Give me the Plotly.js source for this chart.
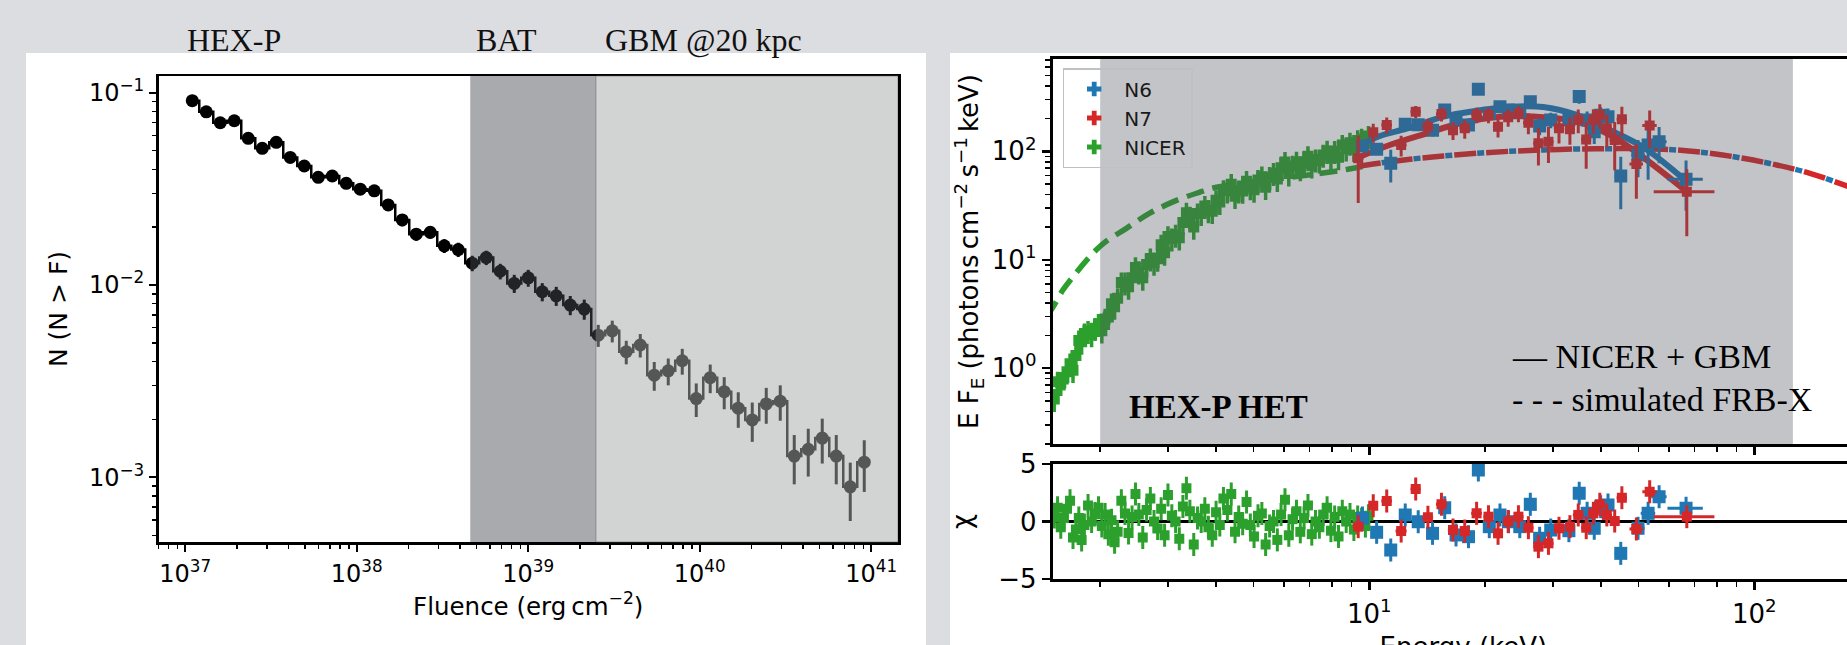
<!DOCTYPE html>
<html><head><meta charset="utf-8">
<script src="https://cdn.plot.ly/plotly-3.0.1.min.js"></script>
<style>
html,body{margin:0;padding:0;width:1847px;height:645px;overflow:hidden;background:#dcdde1;}
.panel{position:absolute;background:#ffffff;}
#p1{left:26px;top:53px;width:900px;height:620px;}
#p2{left:950px;top:53px;width:960px;height:620px;}
#chart{position:absolute;left:0;top:0;width:1880px;height:670px;}
</style></head><body>
<div class="panel" id="p1"></div><div class="panel" id="p2"></div>
<div id="chart"></div>
<script>
// ---------- Left panel: cumulative distribution N(>F) ----------
const FLUENCE = [1.099e37,1.326e37,1.600e37,1.931e37,2.330e37,2.812e37,3.393e37,4.095e37,4.942e37,5.964e37,
  7.197e37,8.685e37,1.048e38,1.265e38,1.526e38,1.842e38,2.223e38,2.683e38,3.237e38,3.907e38,
  4.715e38,5.690e38,6.866e38,8.286e38,1.000e39,1.207e39,1.456e39,1.758e39,2.121e39,2.560e39,
  3.089e39,3.728e39,4.499e39,5.429e39,6.551e39,7.906e39,9.541e39,1.151e40,1.389e40,1.677e40,
  2.024e40,2.442e40,2.947e40,3.556e40,4.292e40,5.179e40,6.251e40,7.543e40,9.103e40];
const N_CUM = [0.0909,0.0796,0.0698,0.0715,0.0579,0.0514,0.0552,0.0461,0.0416,0.0363,
  0.0369,0.0338,0.0315,0.0309,0.0261,0.0218,0.0184,0.0188,0.0160,0.0153,
  0.0130,0.0139,0.0118,0.0102,0.0109,0.00923,0.00879,0.00787,0.00750,0.00549,
  0.00578,0.00450,0.00488,0.00340,0.00358,0.00404,0.00257,0.00330,0.00279,0.00229,
  0.00199,0.00241,0.00249,0.00129,0.00140,0.00160,0.00129,0.000893,0.00120];
const N_CUM_ERR = [0.0032,0.0030,0.0028,0.0028,0.0025,0.0024,0.0025,0.0023,0.0022,0.0020,
  0.0020,0.0019,0.0019,0.0019,0.0017,0.0016,0.0014,0.0014,0.0013,0.0013,
  0.0012,0.0012,0.0011,0.0011,0.0011,0.0010,0.0010,0.0009,0.0009,0.00072,
  0.00075,0.00063,0.00068,0.00058,0.00057,0.00062,0.00051,0.00056,0.00053,0.00048,
  0.00046,0.00051,0.00052,0.00037,0.00039,0.00042,0.00037,0.00030,0.00036];
const BAT_BAND = [4.59e38, 2.48e39];   // fluence limits of the BAT band
const TOP_LABELS = ["HEX-P", "BAT", "GBM @20 kpc"];

// ---------- Right panel: spectra ----------
const NICER_E = [1.52,1.55,1.58,1.61,1.64,1.67,1.70,1.73,1.76,1.79,1.82,1.86,1.90,1.94,1.98,2.02,2.06,2.10,2.14,2.18,2.22,
  2.27,2.32,2.37,2.42,2.47,2.52,2.58,2.64,2.70,2.76,2.82,2.88,2.94,3.00,3.07,3.14,3.21,3.28,3.35,3.42,
  3.50,3.58,3.66,3.74,3.82,3.91,4.00,4.09,4.18,4.28,4.38,4.48,4.58,4.69,4.80,4.91,5.02,5.14,5.26,5.38,
  5.51,5.64,5.77,5.90,6.04,6.18,6.32,6.47,6.62,6.77,6.93,7.09,7.25,7.42,7.59,7.77,7.95,8.13,8.32,8.51,
  8.71,8.91,9.12,9.33,9.55,9.77,9.95];
const NICER_F = [0.52,0.75,0.73,0.82,0.93,1.10,0.96,1.31,1.80,1.75,
  2.09,2.20,2.05,2.34,2.55,2.22,2.85,2.97,3.94,3.69,
  4.41,6.16,6.17,5.64,6.84,8.51,7.80,6.82,9.05,10.27,
  9.40,10.22,13.74,11.60,16.42,15.68,17.0,16.00,22.12,27.11,
  24.86,20.09,26.70,27.0,31.32,28.65,28.10,35.38,34.06,43.66,
  43.60,49.86,38.60,43.51,43.21,53.04,46.70,44.15,54.34,58.47,
  46.74,57.84,63.0,55.64,70.62,79.63,62.44,73.30,79.99,69.84,
  80.11,90.08,73.88,84.0,82.13,92.75,100.8,87.23,100.5,88.3,
  114.3,106,119.9,104.9,126.1,130.1,118.6,138.5];
const NICER_CHI = [0.4,1.2,-0.5,0.3,1.1,1.8,-1.4,-0.7,0.3,-1.6,-0.3,1.4,0.0,0.7,1.2,-0.4,0.6,-1.1,0.1,-1.8,
  -0.9,1.8,0.7,-1.0,0.4,2.4,0.6,-1.4,1.0,2.0,0.0,-0.6,1.1,-1.2,2.3,0.5,0.0,-1.5,1.3,2.9,
  0.9,-2.0,0.3,0.0,1.1,-0.5,-1.2,0.8,-0.3,2.0,1.0,2.4,-0.9,0.4,-0.2,1.7,-0.3,-1.3,0.5,0.7,
  -2.0,-0.4,0.0,-1.6,0.6,1.9,-1.2,0.2,0.9,-0.9,0.3,1.4,-1.1,0.0,-0.5,0.6,1.2,-0.8,0.4,-1.3,
  0.9,0.0,0.6,-0.7,0.4,0.2,-0.4,0.5];

const N6_E = [9.6,10.45,11.37,12.4,13.4,14.6,15.7,16.8,18.1,19.2,20.5,21.85,23.0,24.6,26.2,27.7,29.6,33.0,35.1,36.8,38.4,39.9,41.7,45.0,49.9,53.0,56.6,66.5];
const N6_EERR = [0.3,0.3,0.35,0.4,0.4,0.45,0.5,0.5,0.55,0.6,0.6,0.65,0.7,0.75,0.8,0.85,0.9,1.0,1.1,1.1,1.2,1.2,1.3,1.6,2.0,2.3,2.6,7.0];
const N6_F = [112,104.5,77.6,178,176,157,241,195,175,374,225,258,241,230,287,171,195,195,320,195,152,215,209,59.3,92.6,114.6,122.9,55.3];
const N6_FERR = [12,12,26,20,20,20,28,25,25,40,28,30,30,30,35,30,32,35,45,38,35,40,40,30,35,60,45,27];
const N6_CHI = [0.3,-0.94,-2.48,0.57,-0.02,-1.03,1.2,-1.17,-1.32,4.48,-0.45,0.57,-0.02,-0.45,1.49,-1.46,-0.74,-0.8,2.45,0.71,-0.59,1.29,1.43,-2.77,-0.59,0.71,2.16,1.15];

const N7_E = [9.36,10.24,11.1,12.1,13.2,14.2,15.4,16.5,17.7,19.0,20.4,21.6,22.95,24.4,25.9,27.5,29.2,31.1,33.2,34.9,36.6,38.2,39.7,41.4,43.4,45.3,49.4,53.5,66.8];
const N7_EERR = [0.3,0.3,0.35,0.4,0.4,0.45,0.5,0.5,0.55,0.6,0.6,0.65,0.7,0.75,0.8,0.85,0.9,0.95,1.0,1.1,1.1,1.2,1.2,1.3,1.3,1.4,2.0,2.3,12];
const N7_F = [86.4,150,175,114.6,232,169,221,157,163,217,217,169,206.5,224,184,119,123,163,160,195,129,195,217,163,127,198,76.6,173,42.5];
const N7_FERR = [53,30,30,25,30,30,32,30,32,35,35,35,38,38,40,45,45,45,45,48,60,50,55,55,60,60,40,65,26];
const N7_CHI = [-0.45,1.37,1.78,-0.83,2.83,0.37,1.5,-0.74,-0.83,0.71,0.42,-1.03,0,0.42,-0.54,-2.19,-1.9,-0.59,-0.45,0.57,-0.54,0.71,1.49,0.57,0.04,2.07,-0.65,2.59,0.42];

// NICER + GBM fitted models
const N6_MODEL_E = [9.27,10.66,12.5,15.6,19.0,23.2,28.3,34.6,42.2,51.5,66.8];
const N6_MODEL_F = [109,138.7,162,209,237,258,257,217,157,109,52.5];
const N7_MODEL_E = [9.46,11.3,14.1,17.2,21.9,28.3,34.6,42.2,50.5,66.8];
const N7_MODEL_F = [89.4,114.6,146.8,181.6,209,206.5,188,141.6,92.6,42.5];

// simulated FRB-X spectrum
const SIM_LO_E = [1.45,1.51,1.60,1.70,1.88,2.04,2.34,2.69,3.10,3.56,4.01,5.98,7.30,8.56,9.6];
const SIM_LO_F = [3.0,3.69,5.26,6.98,10.7,14.2,19.5,26.9,34.4,41.1,46.7,56.5,61.9,67.3,72.5];
const SIM_HI_E = [9.4,10.24,12.76,15.57,19.0,23.2,28.3,34.6,42.2,51.5,62.9,76.7,93.6,114.3,139.5,173.8,185];
const SIM_HI_F = [73,76.5,84.6,90.7,96.0,100.2,103.1,105.2,105.9,105.9,103.1,96.0,86.3,74.9,62.8,48.0,44];
const HET_BAND = [2, 126];   // keV limits of the HEX-P HET band

// ---------- geometry ----------
const W = 1880, H = 670;
const px = x => x / W, py = y => 1 - y / H;
const FONT = 'DejaVu Sans';
const SERIF = 'Liberation Serif';
const sup = n => '10<sup>' + (n < 0 ? '\u2212' + (-n) : n) + '</sup>';
function minorLog(a, b) { const o = []; for (let e = a; e <= b; e++) for (let m = 2; m <= 9; m++) o.push(m * Math.pow(10, e)); return o; }

const C6 = '#1f77b4', C7 = '#d62728', CN = '#2ca02c';

const LX = [36.844, 41.156], LY = [-3.336, -0.913];
const RX = [0.1777, 2.311], RY = [-0.699, 2.852];

const traces = [
  {x: FLUENCE, y: N_CUM, xaxis: 'x', yaxis: 'y', mode: 'lines+markers', showlegend: false,
   line: {shape: 'hvh', color: '#000', width: 2.5}, marker: {size: 13, color: '#000'},
   error_y: {type: 'data', array: N_CUM_ERR, thickness: 3, width: 0, color: '#000'}},

  {x: SIM_LO_E, y: SIM_LO_F, xaxis: 'x2', yaxis: 'y2', mode: 'lines', showlegend: false,
   line: {color: CN, width: 5.5, dash: '18px,9px', shape: 'spline'}},
  {x: SIM_HI_E, y: SIM_HI_F, xaxis: 'x2', yaxis: 'y2', mode: 'lines', showlegend: false,
   line: {color: C6, width: 5.5, dash: '0px,23px,7px,2px', shape: 'spline'}},
  {x: SIM_HI_E, y: SIM_HI_F, xaxis: 'x2', yaxis: 'y2', mode: 'lines', showlegend: false,
   line: {color: C7, width: 5.5, dash: '22px,10px', shape: 'spline'}},

  {x: NICER_E, y: NICER_F, xaxis: 'x2', yaxis: 'y2', mode: 'markers', showlegend: false,
   marker: {symbol: 'square', size: 11, color: CN},
   error_y: {type: 'percent', value: 24, thickness: 3.5, width: 0, color: CN},
   error_x: {type: 'percent', value: 2, thickness: 3, width: 0, color: CN}},

  {x: N6_MODEL_E, y: N6_MODEL_F, xaxis: 'x2', yaxis: 'y2', mode: 'lines', showlegend: false,
   line: {color: C6, width: 6, shape: 'spline'}},
  {x: N7_MODEL_E, y: N7_MODEL_F, xaxis: 'x2', yaxis: 'y2', mode: 'lines', showlegend: false,
   line: {color: C7, width: 6, shape: 'spline'}},

  {x: N6_E, y: N6_F, xaxis: 'x2', yaxis: 'y2', mode: 'markers', showlegend: false,
   marker: {symbol: 'square', size: 13, color: C6},
   error_y: {type: 'data', array: N6_FERR, thickness: 3, width: 0, color: C6},
   error_x: {type: 'data', array: N6_EERR, thickness: 3, width: 0, color: C6}},
  {x: N7_E, y: N7_F, xaxis: 'x2', yaxis: 'y2', mode: 'markers', showlegend: false,
   marker: {symbol: 'square', size: 10, color: C7},
   error_y: {type: 'data', array: N7_FERR, thickness: 3, width: 0, color: C7},
   error_x: {type: 'data', array: N7_EERR, thickness: 3, width: 0, color: C7}},

  {x: NICER_E, y: NICER_CHI, xaxis: 'x3', yaxis: 'y3', mode: 'markers', showlegend: false,
   marker: {symbol: 'square', size: 10, color: CN},
   error_y: {type: 'constant', value: 1, thickness: 3, width: 0, color: CN},
   error_x: {type: 'percent', value: 2, thickness: 3, width: 0, color: CN}},
  {x: N6_E, y: N6_CHI, xaxis: 'x3', yaxis: 'y3', mode: 'markers', showlegend: false,
   marker: {symbol: 'square', size: 13, color: C6},
   error_y: {type: 'constant', value: 1, thickness: 3, width: 0, color: C6},
   error_x: {type: 'data', array: N6_EERR, thickness: 3, width: 0, color: C6}},
  {x: N7_E, y: N7_CHI, xaxis: 'x3', yaxis: 'y3', mode: 'markers', showlegend: false,
   marker: {symbol: 'square', size: 10, color: C7},
   error_y: {type: 'constant', value: 1, thickness: 3, width: 0, color: C7},
   error_x: {type: 'data', array: N7_EERR, thickness: 3, width: 0, color: C7}},

  // legend entries
  {x: [null], y: [null], xaxis: 'x2', yaxis: 'y2', mode: 'markers', name: 'N6',
   marker: {symbol: 'cross', size: 18, color: C6}},
  {x: [null], y: [null], xaxis: 'x2', yaxis: 'y2', mode: 'markers', name: 'N7',
   marker: {symbol: 'cross', size: 18, color: C7}},
  {x: [null], y: [null], xaxis: 'x2', yaxis: 'y2', mode: 'markers', name: 'NICER',
   marker: {symbol: 'cross', size: 18, color: CN}}
];

const axBase = {showgrid: false, zeroline: false, showline: true, linecolor: '#000', ticks: 'outside',
  tickcolor: '#000', automargin: false};

const layout = {
  width: W, height: H, margin: {l: 0, r: 0, t: 0, b: 0},
  paper_bgcolor: 'rgba(0,0,0,0)', plot_bgcolor: 'rgba(0,0,0,0)',
  showlegend: true, hovermode: false,
  font: {family: FONT, color: '#000'},
  xaxis: Object.assign({}, axBase, {
    domain: [px(158.5), px(898)], anchor: 'y', type: 'log', range: LX,
    linewidth: 2.5, mirror: true, ticklen: 7, tickwidth: 2,
    tickmode: 'array', tickvals: [1e37, 1e38, 1e39, 1e40, 1e41], ticktext: [sup(37), sup(38), sup(39), sup(40), sup(41)],
    tickfont: {family: FONT, size: 24}, ticklabelstandoff: 2,
    minor: {tickmode: 'array', tickvals: minorLog(36, 40), ticks: 'outside', ticklen: 4, tickwidth: 1.5, tickcolor: '#000'},
    title: {text: 'Fluence (erg\u2009cm<sup>\u22122</sup>)', font: {family: FONT, size: 24.5}, standoff: 8}
  }),
  yaxis: Object.assign({}, axBase, {
    domain: [py(542), py(76)], anchor: 'x', type: 'log', range: LY,
    linewidth: 2.5, mirror: true, ticklen: 7, tickwidth: 2,
    tickmode: 'array', tickvals: [1e-3, 1e-2, 1e-1], ticktext: [sup(-3), sup(-2), sup(-1)],
    tickfont: {family: FONT, size: 24},
    minor: {tickmode: 'array', tickvals: minorLog(-4, -1), ticks: 'outside', ticklen: 4, tickwidth: 1.5, tickcolor: '#000'},
    title: {text: 'N (N &gt; F)', font: {family: FONT, size: 25}, standoff: 14}
  }),
  xaxis2: Object.assign({}, axBase, {
    domain: [px(1052.7), px(1874)], anchor: 'y2', type: 'log', range: RX,
    linewidth: 3, mirror: true, ticklen: 8, tickwidth: 2.5, showticklabels: false,
    tickmode: 'array', tickvals: [1, 10, 100],
    minor: {tickmode: 'array', tickvals: minorLog(0, 2), ticks: 'outside', ticklen: 5, tickwidth: 1.5, tickcolor: '#000'}
  }),
  yaxis2: Object.assign({}, axBase, {
    domain: [py(444), py(59)], anchor: 'x2', type: 'log', range: RY,
    linewidth: 3, mirror: true, ticklen: 8, tickwidth: 2.5,
    tickmode: 'array', tickvals: [1, 10, 100], ticktext: [sup(0), sup(1), sup(2)],
    tickfont: {family: FONT, size: 26},
    minor: {tickmode: 'array', tickvals: minorLog(-1, 2), ticks: 'outside', ticklen: 5, tickwidth: 1.5, tickcolor: '#000'},
    title: {text: 'E F<sub>E</sub> (photons\u2009cm<sup>\u22122</sup>\u2009s<sup>\u22121</sup>\u2009keV)', font: {family: FONT, size: 26}, standoff: 6}
  }),
  xaxis3: Object.assign({}, axBase, {
    domain: [px(1052.7), px(1874)], anchor: 'y3', type: 'log', range: RX,
    linewidth: 3, mirror: true, ticklen: 8, tickwidth: 2.5,
    tickmode: 'array', tickvals: [1, 10, 100], ticktext: [sup(0), sup(1), sup(2)],
    tickfont: {family: FONT, size: 26}, ticklabelstandoff: 2,
    minor: {tickmode: 'array', tickvals: minorLog(0, 2), ticks: 'outside', ticklen: 5, tickwidth: 1.5, tickcolor: '#000'},
    title: {text: 'Energy (keV)', font: {family: FONT, size: 26}, standoff: 10}
  }),
  yaxis3: Object.assign({}, axBase, {
    domain: [py(579), py(464)], anchor: 'x3', range: [-5, 5],
    linewidth: 3, mirror: true, ticklen: 8, tickwidth: 2.5,
    tickmode: 'array', tickvals: [-5, 0, 5], ticktext: ['\u22125', '0', '5'],
    tickfont: {family: FONT, size: 26},
    zeroline: true, zerolinecolor: '#000', zerolinewidth: 3,
    title: {text: '\u03c7', font: {family: FONT, size: 26}, standoff: 20}
  }),
  legend: {x: px(1062.7), y: py(68), xanchor: 'left', yanchor: 'top',
    bgcolor: 'rgba(255,255,255,0)', bordercolor: '#bfc0c4', borderwidth: 1.5,
    font: {family: FONT, size: 20, color: '#1a1a1a'}, itemsizing: 'constant', itemwidth: 50},
  shapes: [
    {type: 'rect', xref: 'x', yref: 'y domain', x0: BAT_BAND[0], x1: BAT_BAND[1], y0: 0, y1: 1,
     fillcolor: 'rgba(72,74,81,0.47)', line: {width: 0}, layer: 'above'},
    {type: 'rect', xref: 'x', yref: 'y domain', x0: BAT_BAND[1], x1: Math.pow(10, LX[1]), y0: 0, y1: 1,
     fillcolor: 'rgba(167,168,168,0.51)', line: {width: 1, color: 'rgba(90,90,95,0.5)'}, layer: 'above'},
    {type: 'rect', xref: 'x2', yref: 'y2 domain', x0: HET_BAND[0], x1: HET_BAND[1], y0: 0, y1: 1,
     fillcolor: 'rgba(79,82,93,0.34)', line: {width: 0}, layer: 'above'}
  ],
  annotations: [
    {text: TOP_LABELS[0], xref: 'paper', yref: 'paper', x: px(234), y: py(40), xanchor: 'center', yanchor: 'middle', showarrow: false, font: {family: SERIF, size: 32, color: '#111'}},
    {text: TOP_LABELS[1], xref: 'paper', yref: 'paper', x: px(506), y: py(40), xanchor: 'center', yanchor: 'middle', showarrow: false, font: {family: SERIF, size: 32, color: '#111'}},
    {text: TOP_LABELS[2], xref: 'paper', yref: 'paper', x: px(703), y: py(40), xanchor: 'center', yanchor: 'middle', showarrow: false, font: {family: SERIF, size: 32, color: '#111'}},
    {text: '<b>HEX-P HET</b>', xref: 'paper', yref: 'paper', x: px(1127), y: py(407), xanchor: 'left', yanchor: 'middle', showarrow: false, font: {family: SERIF, size: 33, color: '#000'}},
    {text: '\u2014 NICER + GBM', xref: 'paper', yref: 'paper', x: px(1510), y: py(356), xanchor: 'left', yanchor: 'middle', showarrow: false, font: {family: SERIF, size: 34, color: '#000'}},
    {text: '- - - simulated FRB-X', xref: 'paper', yref: 'paper', x: px(1510), y: py(399), xanchor: 'left', yanchor: 'middle', showarrow: false, font: {family: SERIF, size: 34, color: '#000'}}
  ]
};

Plotly.newPlot('chart', traces, layout, {staticPlot: true, displayModeBar: false});
</script></body></html>
